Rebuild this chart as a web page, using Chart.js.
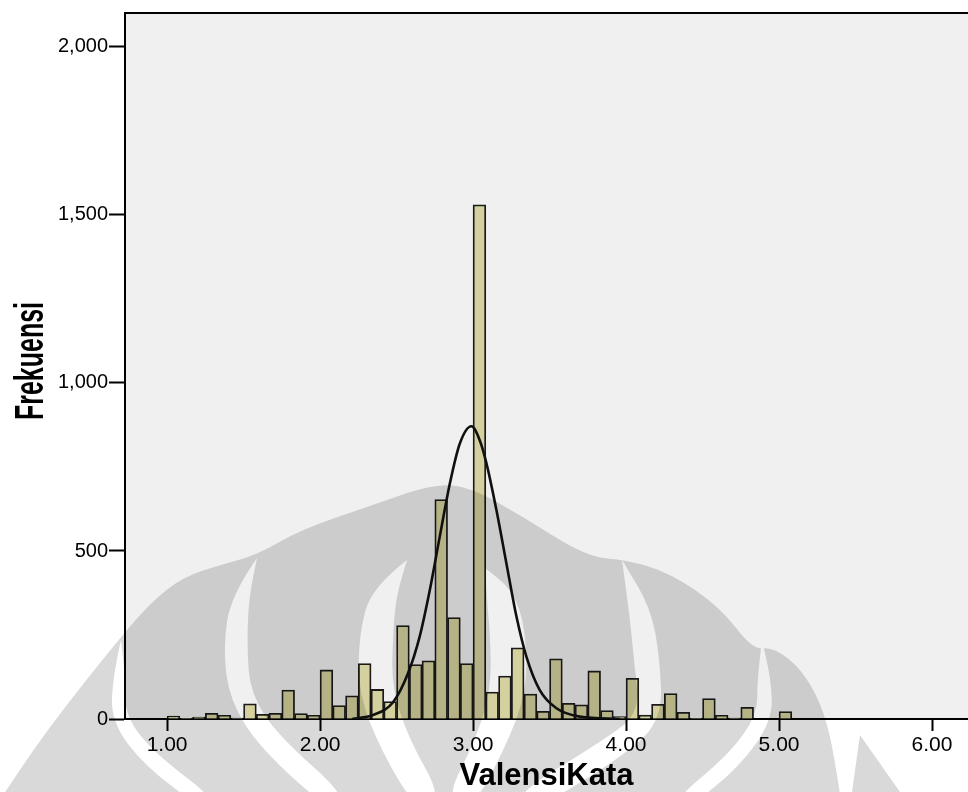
<!DOCTYPE html>
<html>
<head>
<meta charset="utf-8">
<script src="https://cdn.jsdelivr.net/npm/chart.js@4.4.1/dist/chart.umd.min.js"></script>
<style>
  html, body { margin: 0; padding: 0; background: #fff; }
  #wrap { width: 968px; height: 792px; }
</style>
</head>
<body>
<div id="wrap"><canvas id="grafik" width="968" height="792"></canvas></div>
<script>
// =================
// DATA
// =================
const binAwal = 1.0;        // batas bawah bin pertama
const lebarBin = 1 / 12;    // lebar tiap bin
const frekuensi = [
    9, 1, 6, 17, 11, 3, 45, 14, 17, 86, 16, 11,
    146, 40, 69, 165, 88, 52, 278, 162, 173, 653, 302, 165,
    1530, 80, 128, 212, 74, 23, 179, 47, 42, 143, 25, 7,
    121, 12, 44, 76, 20, 2, 61, 11, 3, 35, 0, 0,
    22
];

// kurva normal
const kurvaX = [2.21, 2.346, 2.477, 2.575, 2.651, 2.717, 2.782, 2.848, 2.913, 2.989,
                3.044, 3.088, 3.153, 3.218, 3.284, 3.349, 3.436, 3.545, 3.697, 3.96];
const kurvaY = [0, 12, 50, 136, 245, 383, 542, 700, 819, 871,
                829, 760, 621, 463, 304, 185, 86, 32, 7, 0];

const tickX = [1, 2, 3, 4, 5, 6];
const tickY = [0, 500, 1000, 1500, 2000];
const judulX = "ValensiKata";
const judulY = "Frekuensi";

// =================
// WATERMARK (logo samar di belakang)
// =================
function jalurHalus(c, pts) {
    c.moveTo(pts[0][0], pts[0][1]);
    for (let i = 1; i < pts.length - 1; i++) {
        let mx = (pts[i][0] + pts[i + 1][0]) / 2;
        let my = (pts[i][1] + pts[i + 1][1]) / 2;
        c.quadraticCurveTo(pts[i][0], pts[i][1], mx, my);
    }
    let akhir = pts[pts.length - 1];
    c.lineTo(akhir[0], akhir[1]);
}

// celah berbentuk sabit: titik [x, y, lebar]
function sabit(c, pts) {
    let kiri = [], kanan = [];
    let n = pts.length;
    for (let i = 0; i < n; i++) {
        let a = pts[Math.max(i - 1, 0)];
        let b = pts[Math.min(i + 1, n - 1)];
        let dx = b[0] - a[0], dy = b[1] - a[1];
        let len = Math.hypot(dx, dy) || 1;
        let nx = -dy / len, ny = dx / len;
        let h = pts[i][2] / 2;
        kiri.push([pts[i][0] + nx * h, pts[i][1] + ny * h]);
        kanan.push([pts[i][0] - nx * h, pts[i][1] - ny * h]);
    }
    c.beginPath();
    jalurHalus(c, kiri.concat(kanan.reverse()));
    c.closePath();
    c.fill();
}

function gambarWatermark(chart) {
    let off = document.createElement("canvas");
    off.width = chart.width;
    off.height = chart.height;
    let c = off.getContext("2d");

    c.fillStyle = "rgb(217,217,217)";
    c.beginPath();
    jalurHalus(c, [[0, 800], [5, 792], [47, 730], [110, 650], [150, 603], [183, 577],
        [220, 565], [257, 555], [300, 530], [367, 507], [433, 484], [470, 487],
        [520, 515], [587, 557], [627, 560], [670, 573], [720, 607], [753, 650],
        [773, 647], [803, 670], [827, 717], [840, 792], [840, 800]]);
    c.closePath();
    c.fill();

    c.beginPath();
    c.moveTo(860, 735);
    c.lineTo(900, 792);
    c.lineTo(852, 792);
    c.closePath();
    c.fill();

    // celah terang
    c.globalCompositeOperation = "destination-out";
    c.fillStyle = "#000";
    let celah = [
        [[121, 640, 0], [119, 675, 12], [118, 719, 15], [150, 760, 16], [210, 805, 16]],
        [[257, 558, 0], [240, 597, 18], [235, 647, 24], [240, 697, 22], [270, 743, 22], [340, 805, 22]],
        [[407, 560, 0], [384, 592, 26], [376, 635, 34], [375, 690, 34], [395, 745, 30], [430, 805, 28]],
        [[485, 568, 0], [500, 595, 28], [508, 632, 36], [509, 690, 36], [490, 745, 30], [458, 805, 28]],
        [[622, 560, 0], [640, 610, 22], [647, 660, 26], [651, 717, 24], [611, 750, 24], [520, 805, 24]],
        [[762, 640, 0], [764, 680, 14], [765, 717, 16], [735, 760, 16], [680, 805, 16]]
    ];
    celah.forEach(g => sabit(c, g));

    let ctx = chart.ctx;
    ctx.save();
    ctx.globalCompositeOperation = "multiply";
    ctx.drawImage(off, 0, 0);
    ctx.restore();
}

// =================
// PLUGIN LATAR, BINGKAI & JUDUL Y
// =================
const pluginLatar = {
    id: "pluginLatar",
    beforeDraw(chart) {
        let ctx = chart.ctx;
        let a = chart.chartArea;
        ctx.save();
        ctx.fillStyle = "#fff";
        ctx.fillRect(0, 0, chart.width, chart.height);
        ctx.fillStyle = "#f0f0f0";
        ctx.fillRect(a.left, a.top, a.right - a.left, a.bottom - a.top);
        ctx.restore();
    },
    afterDraw(chart) {
        let ctx = chart.ctx;
        let a = chart.chartArea;

        // garis atas bingkai
        ctx.save();
        ctx.strokeStyle = "#000";
        ctx.lineWidth = 2;
        ctx.beginPath();
        ctx.moveTo(a.left - 1, a.top);
        ctx.lineTo(a.right, a.top);
        ctx.stroke();

        // judul sumbu Y (huruf rapat)
        ctx.translate(43, 361);
        ctx.rotate(-Math.PI / 2);
        ctx.font = 'bold 41px "Liberation Sans", Arial, sans-serif';
        let lebar = ctx.measureText(judulY).width;
        ctx.scale(118 / lebar, 1);
        ctx.textAlign = "center";
        ctx.textBaseline = "alphabetic";
        ctx.fillStyle = "#000";
        ctx.fillText(judulY, 0, 0);
        ctx.restore();

        gambarWatermark(chart);
    }
};

// =================
// GRAFIK
// =================
let dataBatang = frekuensi.map((f, i) => ({ x: binAwal + (i + 0.5) * lebarBin, y: f }));
let dataKurva = kurvaX.map((x, i) => ({ x: x, y: kurvaY[i] }));

const hurufDasar = '"Liberation Sans", Arial, sans-serif';

new Chart(document.getElementById("grafik"), {
    type: "bar",
    data: {
        datasets: [
            {
                type: "line",
                data: dataKurva,
                borderColor: "#111",
                borderWidth: 2.6,
                pointRadius: 0,
                cubicInterpolationMode: "monotone",
                fill: false,
                order: 0
            },
            {
                type: "bar",
                data: dataBatang,
                backgroundColor: "rgb(213,209,158)",
                borderColor: "#1a1a1a",
                borderWidth: 1.8,
                barPercentage: 1,
                categoryPercentage: 1,
                order: 1
            }
        ]
    },
    options: {
        responsive: false,
        devicePixelRatio: 1,
        animation: false,
        layout: { padding: { top: 12, left: 0, right: 0, bottom: 0 } },
        plugins: { legend: { display: false }, tooltip: { enabled: false } },
        scales: {
            x: {
                type: "linear",
                min: 0.725,
                max: 6.235,
                offset: false,
                z: 1,
                afterBuildTicks: s => { s.ticks = tickX.map(v => ({ value: v })); },
                afterFit: s => { s.height = 73; },
                ticks: {
                    callback: v => v.toFixed(2),
                    color: "#000",
                    font: { family: hurufDasar, size: 21 },
                    padding: 2,
                    maxRotation: 0,
                    autoSkip: false
                },
                grid: {
                    offset: false,
                    drawOnChartArea: false,
                    drawTicks: true,
                    tickLength: 12,
                    tickWidth: 2,
                    tickColor: "#000"
                },
                border: { display: true, color: "#000", width: 2 },
                title: {
                    display: true,
                    text: judulX,
                    color: "#000",
                    font: { family: hurufDasar, weight: "bold", size: 31, lineHeight: 1 },
                    padding: { top: 0, bottom: 0 }
                }
            },
            y: {
                type: "linear",
                min: 0,
                max: 2101,
                z: 1,
                afterBuildTicks: s => { s.ticks = tickY.map(v => ({ value: v })); },
                afterFit: s => { s.width = 125; },
                ticks: {
                    callback: v => v.toLocaleString("en-US"),
                    color: "#000",
                    font: { family: hurufDasar, size: 20 },
                    padding: 1
                },
                grid: {
                    drawOnChartArea: false,
                    drawTicks: true,
                    tickLength: 16,
                    tickWidth: 2,
                    tickColor: "#000"
                },
                border: { display: true, color: "#000", width: 2 }
            }
        }
    },
    plugins: [pluginLatar]
});
</script>
</body>
</html>
